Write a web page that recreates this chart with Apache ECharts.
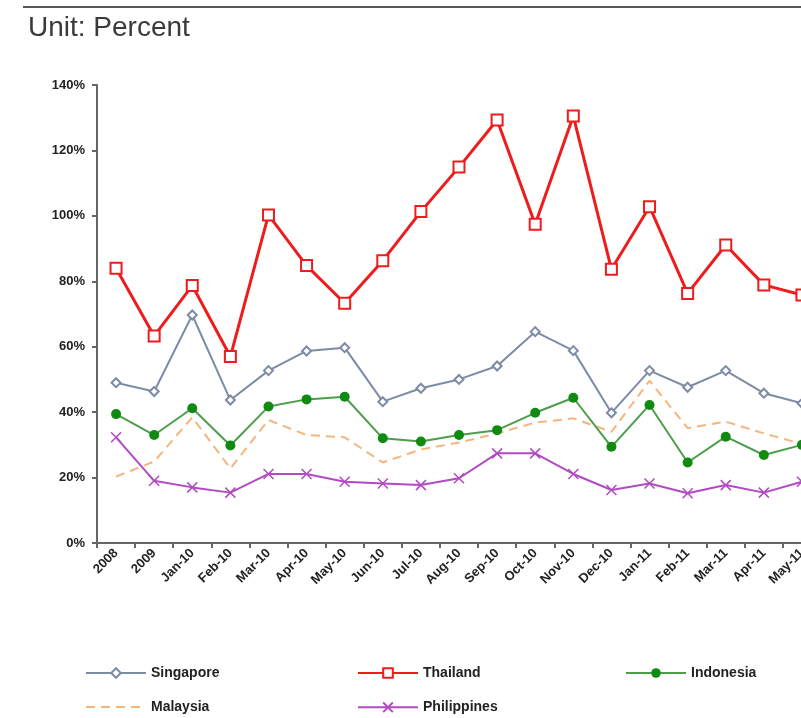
<!DOCTYPE html>
<html>
<head>
<meta charset="utf-8">
<script src="https://cdn.jsdelivr.net/npm/echarts@6/dist/echarts.min.js"></script>
<style>
  html, body { margin: 0; padding: 0; background: #fff; overflow: hidden; }
  /* the source picture is cropped at the right edge, so the chart is a bit wider than the window */
  #main { width: 830px; height: 718px; }
</style>
</head>
<body>
<div id="main"></div>
<script>
// categories on the x axis
const categories = ['2008', '2009', 'Jan-10', 'Feb-10', 'Mar-10', 'Apr-10', 'May-10', 'Jun-10', 'Jul-10',
  'Aug-10', 'Sep-10', 'Oct-10', 'Nov-10', 'Dec-10', 'Jan-11', 'Feb-11', 'Mar-11', 'Apr-11', 'May-11'];

// series values (percent)
const singapore   = [49.0, 46.3, 69.7, 43.7, 52.7, 58.7, 59.7, 43.2, 47.3, 50.0, 54.1, 64.6, 58.8, 39.8, 52.7, 47.6, 52.7, 45.8, 42.7];
const thailand    = [84.0, 63.3, 78.7, 57.0, 100.3, 84.8, 73.3, 86.3, 101.3, 114.9, 129.3, 97.4, 130.5, 83.7, 102.8, 76.3, 91.1, 78.9, 75.8];
const indonesia   = [39.4, 33.0, 41.2, 29.8, 41.7, 43.9, 44.7, 32.0, 31.0, 33.0, 34.5, 39.8, 44.4, 29.4, 42.2, 24.6, 32.5, 26.9, 30.0];
const malaysia    = [20.3, 24.9, 38.4, 22.8, 37.6, 33.0, 32.3, 24.6, 28.6, 30.7, 33.5, 36.8, 38.1, 34.0, 49.6, 35.1, 37.1, 33.5, 30.3];
const philippines = [32.3, 19.0, 17.0, 15.4, 21.1, 21.1, 18.7, 18.2, 17.7, 19.8, 27.4, 27.4, 21.1, 16.2, 18.2, 15.2, 17.7, 15.4, 18.7];

// y axis ticks
const yMin = 0, yMax = 140, yStep = 20;

const chart = echarts.init(document.getElementById('main'));

const fontFamily = 'Liberation Sans, Arial, sans-serif';
const legendText = { fontFamily: fontFamily, fontWeight: 'bold', fontSize: 14, color: '#222' };

// one legend per entry so the two rows line up like the original
function legendAt(item, left, top) {
  return {
    data: [item], left: left, top: top,
    itemWidth: 60, itemHeight: 12,
    textStyle: legendText
  };
}

const option = {
  backgroundColor: '#fff',
  animation: false,
  title: {
    text: 'Unit: Percent',
    left: 23,
    top: 9,
    textStyle: { fontFamily: fontFamily, fontWeight: 'normal', fontSize: 28, color: '#3a3a3a' }
  },
  graphic: [{
    type: 'line',
    shape: { x1: 23, y1: 7, x2: 830, y2: 7 },
    style: { stroke: '#555', lineWidth: 2 }
  }],
  legend: [
    legendAt('Singapore', 80, 661),
    legendAt('Thailand', 352, 661),
    legendAt('Indonesia', 620, 661),
    legendAt({ name: 'Malaysia', itemStyle: { opacity: 0 } }, 80, 695),
    legendAt('Philippines', 352, 695)
  ],
  grid: { left: 97, top: 85, bottom: 175, right: 9, containLabel: false },
  xAxis: {
    type: 'category',
    data: categories,
    boundaryGap: true,
    axisLine: { lineStyle: { color: '#666', width: 2 } },
    axisTick: { show: true, length: 5, inside: false, lineStyle: { color: '#666', width: 2 } },
    axisLabel: { rotate: 45, interval: 0, margin: 8, fontFamily: fontFamily, fontWeight: 'bold', fontSize: 13, color: '#222' },
    splitLine: { show: false }
  },
  yAxis: {
    type: 'value',
    min: yMin, max: yMax, interval: yStep,
    axisLine: { show: true, lineStyle: { color: '#666', width: 2 } },
    axisTick: { show: true, length: 5, lineStyle: { color: '#666', width: 2 } },
    axisLabel: { formatter: '{value}%', margin: 12, fontFamily: fontFamily, fontWeight: 'bold', fontSize: 13, color: '#222' },
    splitLine: { show: false }
  },
  series: [
    {
      name: 'Singapore', type: 'line', data: singapore,
      symbol: 'emptyDiamond', symbolSize: 9,
      lineStyle: { color: '#7d8ba6', width: 2 },
      itemStyle: { color: '#7d8ba6', borderColor: '#7d8ba6', borderWidth: 1.5 },
      z: 3
    },
    {
      name: 'Thailand', type: 'line', data: thailand,
      symbol: 'emptyRect', symbolSize: 11,
      lineStyle: { color: '#ee1c1c', width: 3 },
      itemStyle: { color: '#ee1c1c', borderColor: '#ee1c1c', borderWidth: 3.5 },
      z: 5
    },
    {
      name: 'Indonesia', type: 'line', data: indonesia,
      symbol: 'circle', symbolSize: 10,
      lineStyle: { color: '#4c9e4c', width: 2 },
      itemStyle: { color: '#118a11' },
      z: 4
    },
    {
      name: 'Malaysia', type: 'line', data: malaysia,
      symbol: 'none',
      lineStyle: { color: '#f5b57c', width: 2, type: [9, 6] },
      itemStyle: { color: '#f5b57c' },
      z: 2
    },
    {
      name: 'Philippines', type: 'line', data: philippines,
      symbol: 'path://M0,0L10,10M10,0L0,10', symbolSize: 10,
      lineStyle: { color: '#b24bc2', width: 2 },
      itemStyle: { color: 'none', borderColor: '#b24bc2', borderWidth: 1.5 },
      z: 3
    }
  ]
};

chart.setOption(option);
</script>
</body>
</html>
